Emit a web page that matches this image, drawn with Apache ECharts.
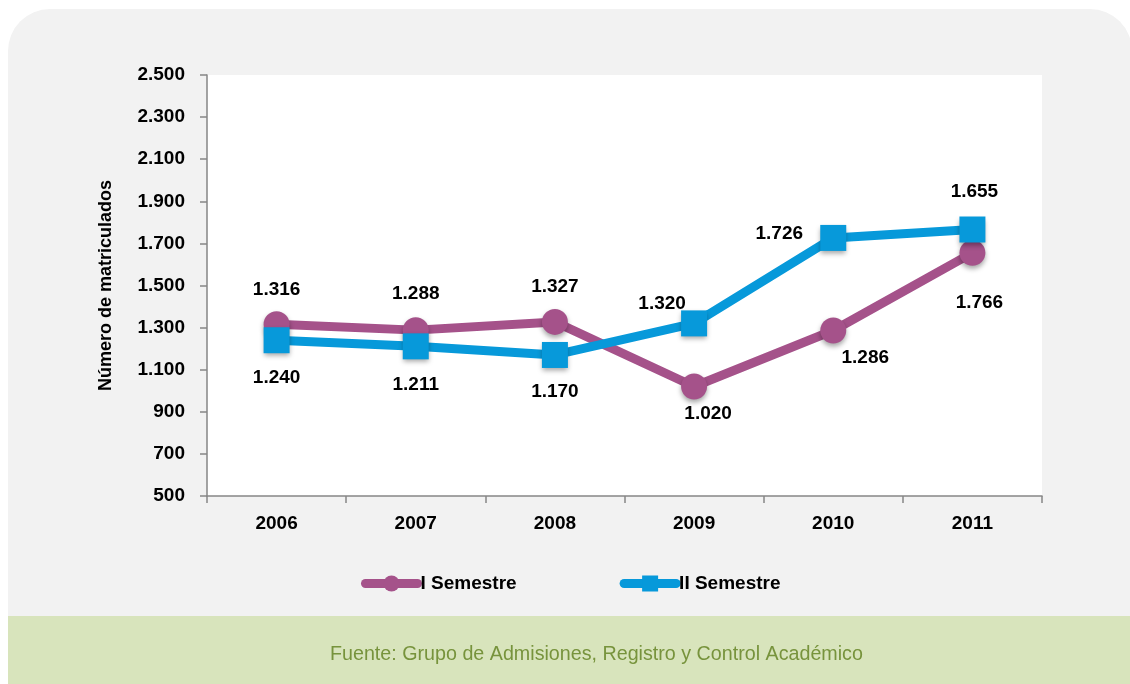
<!DOCTYPE html>
<html>
<head>
<meta charset="utf-8">
<script src="https://cdn.jsdelivr.net/npm/echarts@6/dist/echarts.min.js"></script>
<style>
  html, body { margin: 0; padding: 0; background: #fff; }
  #chart { width: 1130px; height: 684px; }
</style>
</head>
<body>
<div id="chart"></div>
<script>
const years = ['2006', '2007', '2008', '2009', '2010', '2011'];
const semestre1 = [1316, 1288, 1327, 1020, 1286, 1655];
const semestre2 = [1240, 1211, 1170, 1320, 1726, 1766];
// labels as printed on the original (2011 ones are swapped there)
const semestre1Labels = ['1.316', '1.288', '1.327', '1.020', '1.286', '1.766'];
const semestre2Labels = ['1.240', '1.211', '1.170', '1.320', '1.726', '1.655'];

const FONT = '"Liberation Sans Narrow", "Arial Narrow", "Liberation Sans", Arial, sans-serif';

// label placement, relative to the marker centre
const offs1 = [[0, -34], [0, -36], [0, -35], [14, 27], [32, 27], [7, 50]];
const offs2 = [[0, 38], [0, 38], [0, 37], [-32, -20], [-54, -4], [2, -38]];

const fmtThousands = (v) => String(v).replace(/\B(?=(\d{3})+(?!\d))/g, '.');

function buildData(values, labels, offs) {
  return values.map((v, i) => ({
    value: v,
    label: { formatter: labels[i], offset: offs[i] }
  }));
}

const chart = echarts.init(document.getElementById('chart'));

const labelFont = { color: '#000', fontWeight: 'bold', fontSize: 19, fontFamily: FONT };

const option = {
  backgroundColor: '#ffffff',
  animation: false,
  textStyle: { fontFamily: FONT },
  graphic: [
    {
      type: 'rect', z: -10, silent: true,
      shape: { x: 8, y: 9, width: 1124, height: 640, r: [42, 42, 0, 0] },
      style: { fill: '#f2f2f2' }
    },
    {
      type: 'rect', z: -9, silent: true,
      shape: { x: 8, y: 616, width: 1122, height: 68 },
      style: { fill: '#d8e4bc' }
    },
    {
      type: 'text', z: 10, silent: true,
      left: 330, top: 645,
      style: {
        text: 'Fuente: Grupo de Admisiones, Registro y Control Académico',
        fill: '#77933c',
        font: '19.7px ' + FONT
      }
    }
  ],
  grid: {
    left: 207, right: 88, top: 75, bottom: 188,
    show: true, backgroundColor: '#ffffff', borderWidth: 0
  },
  legend: {
    left: 356, top: 569,
    itemWidth: 52, itemHeight: 20, itemGap: 103,
    lineStyle: { width: 9, cap: 'round' },
    textStyle: Object.assign({ padding: [0, 0, 0, -2] }, labelFont),
    data: ['I Semestre', 'II Semestre']
  },
  xAxis: {
    type: 'category',
    data: years,
    boundaryGap: true,
    axisLine: { lineStyle: { color: '#868686', width: 1.5 } },
    axisTick: { show: true, length: 7, lineStyle: { color: '#868686', width: 1.5 } },
    axisLabel: Object.assign({ margin: 18 }, labelFont),
    splitLine: { show: false }
  },
  yAxis: {
    type: 'value',
    min: 500, max: 2500, interval: 200,
    name: 'Número de matriculados',
    nameLocation: 'middle',
    nameGap: 92,
    nameRotate: 90,
    nameTextStyle: { color: '#000', fontWeight: 'bold', fontSize: 18, fontFamily: FONT },
    axisLine: { show: true, lineStyle: { color: '#868686', width: 1.5 } },
    axisTick: { show: true, length: 7, lineStyle: { color: '#868686', width: 1.5 } },
    axisLabel: Object.assign({ margin: 22, formatter: fmtThousands }, labelFont),
    splitLine: { show: false }
  },
  series: [
    {
      name: 'I Semestre',
      type: 'line',
      data: buildData(semestre1, semestre1Labels, offs1),
      symbol: 'circle',
      symbolSize: 26,
      lineStyle: { color: '#a5528a', width: 9 },
      itemStyle: {
        color: '#a5528a',
        shadowBlur: 5, shadowColor: 'rgba(0,0,0,0.35)', shadowOffsetY: 3
      },
      label: Object.assign({ show: true, position: 'inside' }, labelFont)
    },
    {
      name: 'II Semestre',
      type: 'line',
      data: buildData(semestre2, semestre2Labels, offs2),
      symbol: 'rect',
      symbolSize: 26,
      lineStyle: { color: '#0799da', width: 9 },
      itemStyle: {
        color: '#0799da',
        shadowBlur: 5, shadowColor: 'rgba(0,0,0,0.35)', shadowOffsetY: 3
      },
      label: Object.assign({ show: true, position: 'inside' }, labelFont)
    }
  ]
};

chart.setOption(option);
</script>
</body>
</html>
